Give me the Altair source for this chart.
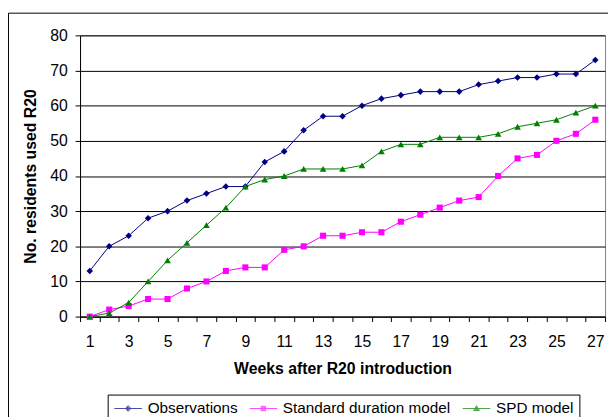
import altair as alt
import pandas as pd

weeks = list(range(1, 28))
observations = [13, 20, 23, 28, 30, 33, 35, 37, 37, 44, 47, 53, 57, 57, 60, 62, 63, 64, 64, 64, 66, 67, 68, 68, 69, 69, 73]
standard = [0, 2, 3, 5, 5, 8, 10, 13, 14, 14, 19, 20, 23, 23, 24, 24, 27, 29, 31, 33, 34, 40, 45, 46, 50, 52, 56]
spd = [0, 1, 4, 10, 16, 21, 26, 31, 37, 39, 40, 42, 42, 42, 43, 47, 49, 49, 51, 51, 51, 52, 54, 55, 56, 58, 60]

series_names = ["Observations", "Standard duration model", "SPD model"]
series_colors = ["#000080", "#FF00FF", "#008000"]
series_shapes = ["diamond", "square", "triangle-up"]
series_sizes = [44, 38, 46]
# legend symbols: a line with a (solid-looking) marker in the middle
legend_paths = [
    "M-1,0L3,0M1,-0.42L1.38,0L1,0.42L0.62,0ZM1,-0.26L1.24,0L1,0.26L0.76,0ZM1,-0.12L1.1,0L1,0.12L0.9,0Z",
    "M-1,0L3,0M0.68,-0.32L1.32,-0.32L1.32,0.32L0.68,0.32ZM0.82,-0.18L1.18,-0.18L1.18,0.18L0.82,0.18ZM0.95,-0.05L1.05,-0.05L1.05,0.05L0.95,0.05Z",
    "M-1,0L3,0M1,-0.42L1.42,0.3L0.58,0.3ZM1,-0.22L1.24,0.18L0.76,0.18ZM1,-0.05L1.08,0.1L0.92,0.1Z",
]

rows = []
for name, vals in zip(series_names, [observations, standard, spd]):
    for w, v in zip(weeks, vals):
        rows.append({"week": w, "value": v, "series": name})
df = pd.DataFrame(rows)

FONT = "Liberation Sans"
FS = 16

x_enc = alt.X(
    "week:O",
    bandPosition=0.5,
    scale=alt.Scale(type="band", paddingInner=0, paddingOuter=0),
    axis=alt.Axis(
        title="Weeks after R20 introduction",
        labelAngle=0,
        tickBand="extent",
        tickSize=5,
        labelPadding=12,
        titlePadding=12,
        labelExpr="datum.value % 2 == 1 ? datum.label : ''",
        grid=False,
    ),
)
y_enc = alt.Y(
    "value:Q",
    scale=alt.Scale(domain=[0, 80], nice=False),
    axis=alt.Axis(
        title="No. residents used R20",
        values=list(range(0, 81, 10)),
        tickSize=5,
        labelPadding=8,
        titlePadding=11,
        grid=True,
        gridColor="black",
        gridWidth=1,
    ),
)

color_scale = alt.Scale(domain=series_names, range=series_colors)

base = alt.Chart(df)

lines = base.mark_line(strokeWidth=1).encode(
    x=x_enc,
    y=y_enc,
    color=alt.Color("series:N", scale=color_scale, legend=None),
)

point_layers = []
for name, shp, sz in zip(series_names, series_shapes, series_sizes):
    point_layers.append(
        base.transform_filter(alt.datum.series == name)
        .mark_point(filled=True, size=sz, opacity=1, shape=shp)
        .encode(
            x=x_enc,
            y=y_enc,
            color=alt.Color("series:N", scale=color_scale, legend=None),
        )
    )


def make_legend():
    return alt.Legend(
        title=None,
        orient="none",
        direction="horizontal",
        legendX=28,
        legendY=364,
        padding=6,
        strokeColor="black",
        fillColor="white",
        symbolSize=196,
        symbolStrokeWidth=1,
        symbolFillColor="transparent",
        labelOffset=19,
        columnPadding=9,
        labelLimit=0,
        labelFont=FONT,
        labelFontSize=15.5,
        labelColor="black",
    )


legend_layer = base.transform_filter("false").mark_point(filled=False, strokeWidth=1).encode(
    x=x_enc,
    y=y_enc,
    stroke=alt.Stroke("series:N", scale=alt.Scale(domain=series_names, range=series_colors), legend=make_legend()),
    shape=alt.Shape(
        "series:N",
        scale=alt.Scale(domain=series_names, range=legend_paths),
        legend=make_legend(),
    ),
)

frame = alt.Chart(alt.Data(values=[{}])).mark_rect(
    fill=None, stroke="black", strokeWidth=1
).encode(
    x=alt.value(-72.5), x2=alt.value(700), y=alt.value(-22.5), y2=alt.value(600)
)

chart = alt.layer(frame, lines, *point_layers, legend_layer).resolve_scale(
    shape="independent", stroke="independent"
).properties(
    width=532,
    height=285,
    padding={"left": 73, "top": 25, "right": 3, "bottom": 99},
    autosize=alt.AutoSizeParams(type="none"),
).configure_view(
    stroke="#808080", strokeWidth=1
).configure_axis(
    labelFont=FONT,
    labelFontSize=FS,
    labelColor="black",
    titleFont=FONT,
    titleFontSize=FS,
    titleFontWeight="bold",
    titleColor="black",
    domainColor="black",
    tickColor="black",
)

chart.save("out.html", embed_options={"renderer": "svg", "actions": False})
